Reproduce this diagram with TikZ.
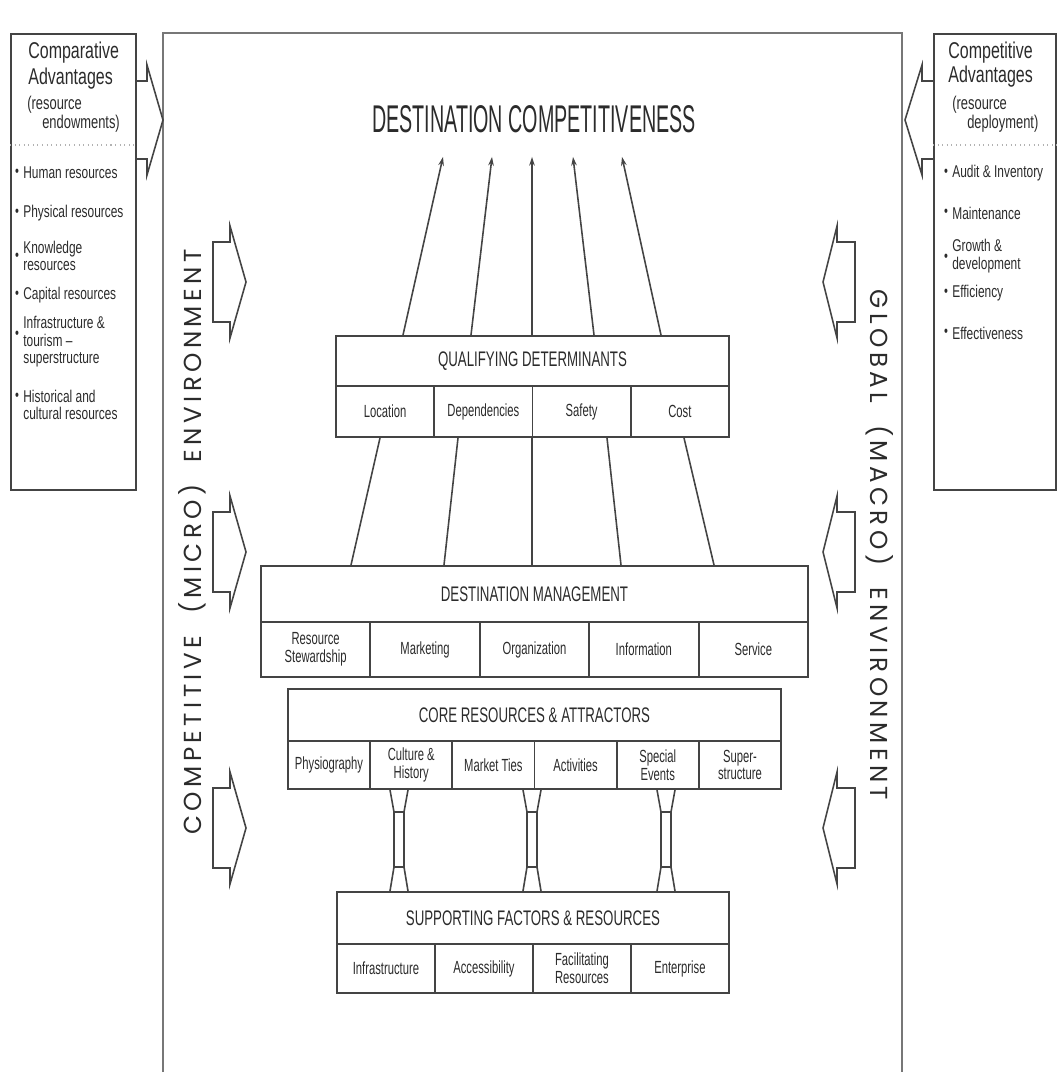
\documentclass[tikz,border=0pt]{standalone}
\usepackage{fontspec}
\setmainfont{Liberation Sans}
\newfontfamily\titlecond[FakeStretch=0.51]{Liberation Sans}
\newfontfamily\headcond[FakeStretch=0.63]{Liberation Sans}
\newfontfamily\cellcond[FakeStretch=0.64]{Liberation Sans}
\newfontfamily\sidecond[FakeStretch=0.7]{Liberation Sans}
\newfontfamily\envfont[LetterSpace=18]{Poppins}
\usetikzlibrary{positioning}
\usetikzlibrary{arrows.meta}

\newcommand{\pxu}{0.02cm}
\definecolor{ink}{HTML}{2B2B2B}
\definecolor{boxline}{HTML}{444444}
\definecolor{framegray}{HTML}{777777}

\tikzset{
  headbox/.style={draw=boxline, line width=1.1pt, anchor=north west, inner sep=0pt, text=ink, font=\headcond\fontsize{12}{13}\selectfont},
  cellbox/.style={draw=boxline, line width=1.1pt, anchor=north west, inner sep=0pt, text=ink, align=center, font=\cellcond\fontsize{10}{10}\selectfont},
  sidebox/.style={draw=boxline, line width=1.2pt, anchor=north west, inner sep=0pt},
  sidehead/.style={anchor=west, inner sep=0pt, text=ink, font=\sidecond\fontsize{13}{13}\selectfont},
  sidesub/.style={anchor=west, inner sep=0pt, text=ink, align=left, font=\sidecond\fontsize{10.5}{9}\selectfont},
  bullettext/.style={anchor=west, inner sep=0pt, text=ink, align=left, font=\sidecond\fontsize{9.7}{10}\selectfont},
  bulletmark/.style={inner sep=0pt, text=ink, font=\sidecond\fontsize{9}{9}\selectfont},
  blockarrow/.style={draw=boxline, line width=0.9pt, line join=miter},
  link/.style={draw=boxline, line width=0.9pt},
  sepline/.style={draw=gray!60, line width=0.6pt, dotted},
  envtext/.style={text=ink, inner sep=0pt, font=\envfont\fontsize{14}{14}\selectfont},
}

\begin{document}
\begin{tikzpicture}[x=0.02cm, y=-0.02cm]
\useasboundingbox (0,0) rectangle (1057,1075);

\draw[framegray, line width=1.2pt] (163,1072) -- (163,33) -- (902,33) -- (902,1072);

% side boxes
\node[sidebox, minimum width=125*\pxu, minimum height=456*\pxu] (cmpbox) at (10,33) {};
\node[sidebox, minimum width=122*\pxu, minimum height=456*\pxu] (cpsbox) at (933,33) {};
\draw[sepline] (cmpbox.west |- 0,145) -- (cmpbox.east |- 0,145);
\draw[sepline] (cpsbox.west |- 0,145) -- (cpsbox.east |- 0,145);

\node[sidehead] (cmpa) at (28,53) {Comparative};
\node[sidehead] (cmpb) at (28,79) {Advantages};
\node[sidesub] (cmpc) at (27,114) {(resource\\\hspace*{8.5pt}endowments)};
\foreach \yy/\by/\txt in {173/173/Human resources, 213/213/Physical resources, 256/257/{Knowledge\\resources}, 295/295/Capital resources, 342/335/{Infrastructure \&\\tourism –\\superstructure}, 405/397/{Historical and\\cultural resources}}{
  \node[bulletmark] at (17,\by) {\textbullet};
  \node[bullettext] at (23,\yy) {\txt};
}

\node[sidehead] (cpsa) at (948,53) {Competitive};
\node[sidehead] (cpsb) at (948,77) {Advantages};
\node[sidesub] (cpsc) at (952,114) {(resource\\\hspace*{8.5pt}deployment)};
\foreach \yy/\by/\txt in {173/173/Audit \& Inventory, 213/213/Maintenance, 256/258/{Growth \&\\development}, 293/293/Efficiency, 333/333/Effectiveness}{
  \node[bulletmark] at (946,\by) {\textbullet};
  \node[bullettext] at (952,\yy) {\txt};
}

% big arrows into the frame
\draw[blockarrow] (cmpbox.east |- 0,81) -- (147,81) -- (147,65) -- (163,120) -- (147,175) -- (147,159) -- (cmpbox.east |- 0,159);
\draw[blockarrow] (cpsbox.west |- 0,81) -- (922,81) -- (922,65) -- (905,120) -- (922,175) -- (922,159) -- (cpsbox.west |- 0,159);

% environment arrows
\foreach \cy in {282,552,828}{
  \draw[blockarrow] (213,\cy-40) -- (230,\cy-40) -- (230,\cy-56) -- (246,\cy) -- (230,\cy+56) -- (230,\cy+40) -- (213,\cy+40) -- cycle;
  \draw[blockarrow] (855,\cy-40) -- (837,\cy-40) -- (837,\cy-56) -- (823,\cy) -- (837,\cy+56) -- (837,\cy+40) -- (855,\cy+40) -- cycle;
}
\node[envtext, rotate=90] (micro) at (192,542) {COMPETITIVE\hspace{0.9em}(MICRO)\hspace{0.9em}ENVIRONMENT};
\node[envtext, rotate=-90] (macro) at (880,545) {GLOBAL\hspace{0.9em}(MACRO)\hspace{0.9em}ENVIRONMENT};

\node[text=ink, font=\titlecond\fontsize{22}{22}\selectfont, inner xsep=0pt, inner ysep=13.6pt] (dc) at (534,119) {DESTINATION COMPETITIVENESS};

% qualifying determinants
\node[headbox, minimum width=393*\pxu, minimum height=50*\pxu] (qd) at (335,335) {QUALIFYING DETERMINANTS};
\foreach \i/\txt in {0/Location, 1/Dependencies, 2/Safety, 3/Cost}
  \node[cellbox, minimum width=98.25*\pxu, minimum height=51*\pxu] (qd\i) at (335+98.25*\i,385) {\txt};

% destination management
\node[headbox, minimum width=547*\pxu, minimum height=56*\pxu] (dm) at (260,565) {DESTINATION MANAGEMENT};
\foreach \i/\txt in {0/{Resource\\Stewardship}, 1/Marketing, 2/Organization, 3/Information, 4/Service}
  \node[cellbox, minimum width=109.4*\pxu, minimum height=55*\pxu] (dm\i) at (260+109.4*\i,621) {\txt};

% core resources
\node[headbox, minimum width=493*\pxu, minimum height=52*\pxu] (cra) at (287,688) {CORE RESOURCES \& ATTRACTORS};
\foreach \i/\txt in {0/Physiography, 1/{Culture \&\\History}, 2/Market Ties, 3/Activities, 4/{Special\\Events}, 5/{Super-\\structure}}
  \node[cellbox, minimum width=82.17*\pxu, minimum height=48*\pxu] (cra\i) at (287+82.17*\i,740) {\txt};

% supporting factors
\node[headbox, minimum width=392*\pxu, minimum height=52*\pxu] (sfr) at (336,891) {SUPPORTING FACTORS \& RESOURCES};
\foreach \i/\txt in {0/Infrastructure, 1/Accessibility, 2/{Facilitating\\Resources}, 3/Enterprise}
  \node[cellbox, minimum width=98*\pxu, minimum height=49*\pxu] (sfr\i) at (336+98*\i,943) {\txt};

\foreach \xa/\xb in {403/443, 471/492, 532/532, 594/573, 661/622}
  \draw[link, -{Stealth[length=5pt, width=3.2pt]}] (\xa,0 |- qd.north) -- (\xb,0 |- dc.south);
\foreach \xa/\xb in {351/380, 444/458, 532/532, 621/607, 714/684}
  \draw[link] (\xa,0 |- dm.north) -- (\xb,0 |- qd0.south);

\foreach \cx in {399,532,666}{
  \draw[link] (\cx-9,0 |- cra0.south) -- (\cx-5,812) -- (\cx-5,867) -- (\cx-9,0 |- sfr.north);
  \draw[link] (\cx+9,0 |- cra0.south) -- (\cx+5,812) -- (\cx+5,867) -- (\cx+9,0 |- sfr.north);
  \draw[link] (\cx-5,812) -- (\cx+5,812) (\cx-5,867) -- (\cx+5,867);
}
\end{tikzpicture}
\end{document}
